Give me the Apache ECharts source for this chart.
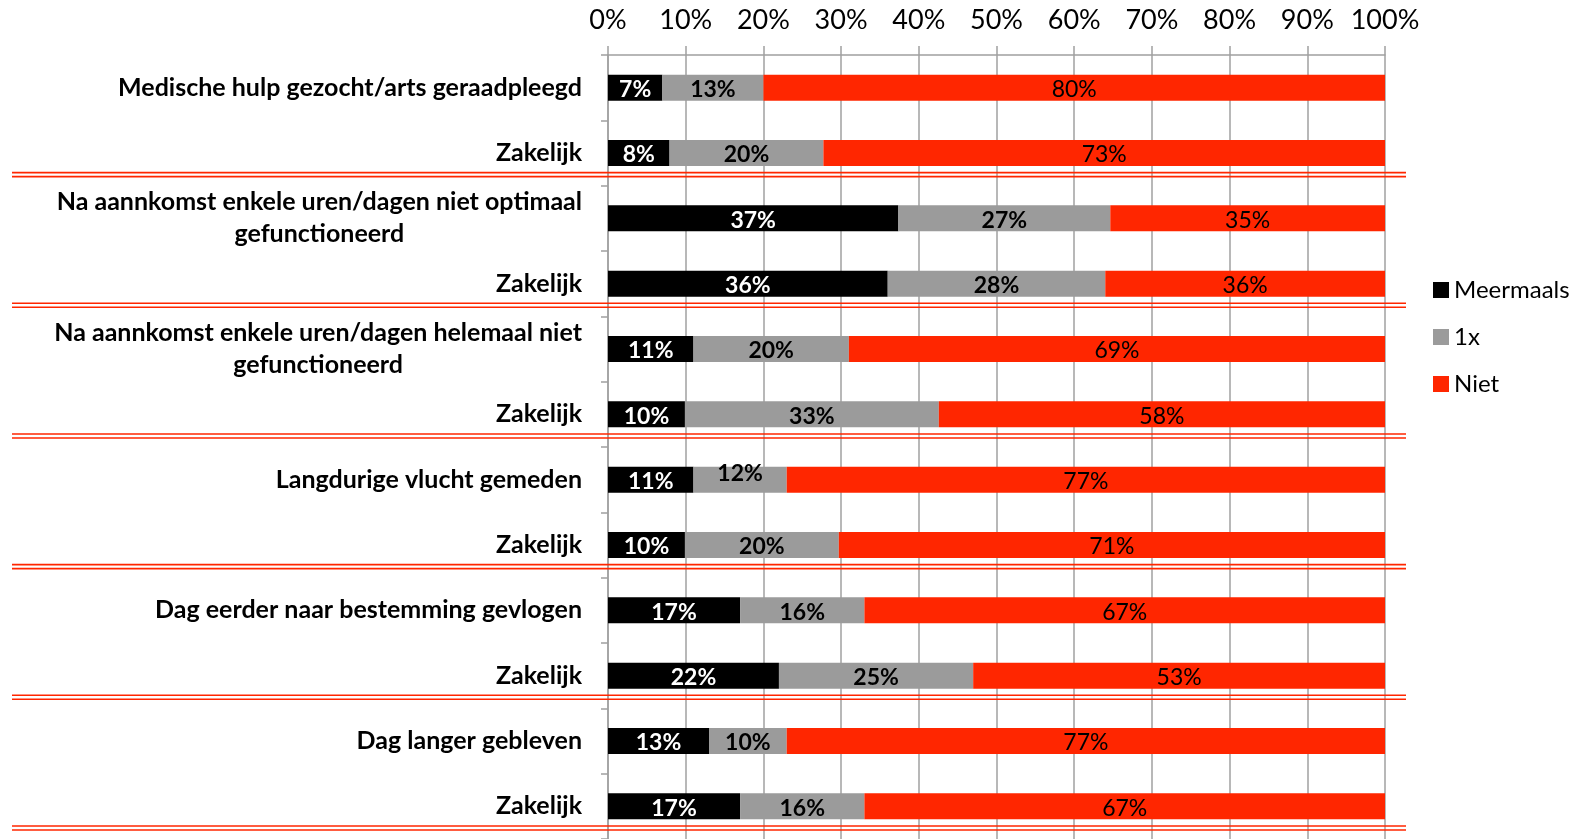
<!DOCTYPE html>
<html>
<head>
<meta charset="utf-8">
<script src="https://cdn.jsdelivr.net/npm/echarts@6/dist/echarts.min.js"></script>
<style>
  html, body { margin: 0; padding: 0; background: #fff; }
  #chart { width: 1579px; height: 839px; }
</style>
</head>
<body>
<div id="chart"></div>
<script>
// categorieen, van boven naar beneden
const categories = [
    'Medische hulp gezocht/arts geraadpleegd',
    'Zakelijk',
    'Na aannkomst enkele uren/dagen niet optimaal\ngefunctioneerd',
    'Zakelijk',
    'Na aannkomst enkele uren/dagen helemaal niet\ngefunctioneerd',
    'Zakelijk',
    'Langdurige vlucht gemeden',
    'Zakelijk',
    'Dag eerder naar bestemming gevlogen',
    'Zakelijk',
    'Dag langer gebleven',
    'Zakelijk'
];
const meermaals = [7, 8, 37, 36, 11, 10, 11, 10, 17, 22, 13, 17];
const eenmaal = [13, 20, 27, 28, 20, 33, 12, 20, 16, 25, 10, 16];
const niet = [80, 73, 35, 36, 69, 58, 77, 71, 67, 53, 77, 67];
const xTicks = [0, 10, 20, 30, 40, 50, 60, 70, 80, 90, 100];
// index van de "Zakelijk" rijen waaronder een dubbele rode lijn komt
const separatorRows = [1, 3, 5, 7, 9, 11];

const FONT = 'Lato';
const RED = '#ff2600';
const GREY = '#9b9b9b';
const AXIS = '#a0a0a0';

// 100% gestapeld, zoals in Excel
function share(arr, i) {
    const total = meermaals[i] + eenmaal[i] + niet[i];
    return arr[i] / total * 100;
}

function makeSeries(name, arr, color, labelColor, bold) {
    return {
        name: name,
        type: 'bar',
        stack: 'total',
        barWidth: 26,
        itemStyle: { color: color },
        label: {
            show: true,
            position: 'inside',
            offset: [0, 2],
            fontFamily: FONT,
            fontSize: 23,
            fontWeight: bold ? 'bold' : 'normal',
            color: labelColor,
            formatter: p => arr[p.dataIndex] + '%'
        },
        data: arr.map((v, i) => {
            const item = { value: share(arr, i) };
            // Excel zette dit label iets hoger
            if (name === '1x' && i === 6) item.label = { offset: [0, -6] };
            return item;
        })
    };
}

const chart = echarts.init(document.getElementById('chart'));

const option = {
    animation: false,
    textStyle: { fontFamily: FONT },
    legend: {
        orient: 'vertical',
        left: 1428,
        top: 273,
        width: 150,
        icon: 'rect',
        itemWidth: 16,
        itemHeight: 16,
        itemGap: 23,
        textStyle: { fontFamily: FONT, fontSize: 24, color: '#000' },
        data: ['Meermaals', '1x', 'Niet']
    },
    grid: {
        left: 608,
        right: 194,
        top: 55,
        height: 791
    },
    xAxis: {
        type: 'value',
        position: 'top',
        min: xTicks[0],
        max: xTicks[xTicks.length - 1],
        interval: 10,
        axisLine: { show: true, lineStyle: { color: AXIS, width: 1.5 } },
        axisTick: { show: true, length: 9, lineStyle: { color: AXIS, width: 1.5 } },
        splitLine: { show: true, lineStyle: { color: AXIS, width: 1.5 } },
        axisLabel: {
            margin: 21,
            fontFamily: FONT,
            fontSize: 27,
            color: '#000',
            formatter: '{value}%'
        }
    },
    yAxis: {
        type: 'category',
        inverse: true,
        data: categories,
        axisLine: { show: true, lineStyle: { color: AXIS, width: 1.5 } },
        axisTick: { show: true, length: 7, lineStyle: { color: AXIS, width: 1.5 } },
        axisLabel: {
            margin: 26,
            interval: 0,
            formatter: v => v.split('\n').map(s => '{c|' + s + '}').join('\n'),
            rich: {
                c: {
                    align: 'center',
                    fontFamily: FONT,
                    fontSize: 25,
                    fontWeight: 'bold',
                    color: '#000',
                    lineHeight: 32
                }
            }
        }
    },
    series: [
        makeSeries('Meermaals', meermaals, '#000000', '#ffffff', true),
        makeSeries('1x', eenmaal, GREY, '#000000', true),
        makeSeries('Niet', niet, RED, '#000000', false)
    ]
};

chart.setOption(option);

// dubbele rode scheidingslijnen onder elke "Zakelijk" rij
const y0 = chart.convertToPixel({ yAxisIndex: 0 }, 0);
const y1 = chart.convertToPixel({ yAxisIndex: 0 }, 1);
const band = y1 - y0;
const lines = [];
separatorRows.forEach(row => {
    const y = chart.convertToPixel({ yAxisIndex: 0 }, row) + band * 0.3;
    [0, 4].forEach(d => {
        lines.push({
            type: 'line',
            z: 100,
            shape: { x1: 12, y1: y + d, x2: 1406, y2: y + d },
            style: { stroke: RED, lineWidth: 1.6 }
        });
    });
});
chart.setOption({ graphic: lines });
</script>
</body>
</html>
